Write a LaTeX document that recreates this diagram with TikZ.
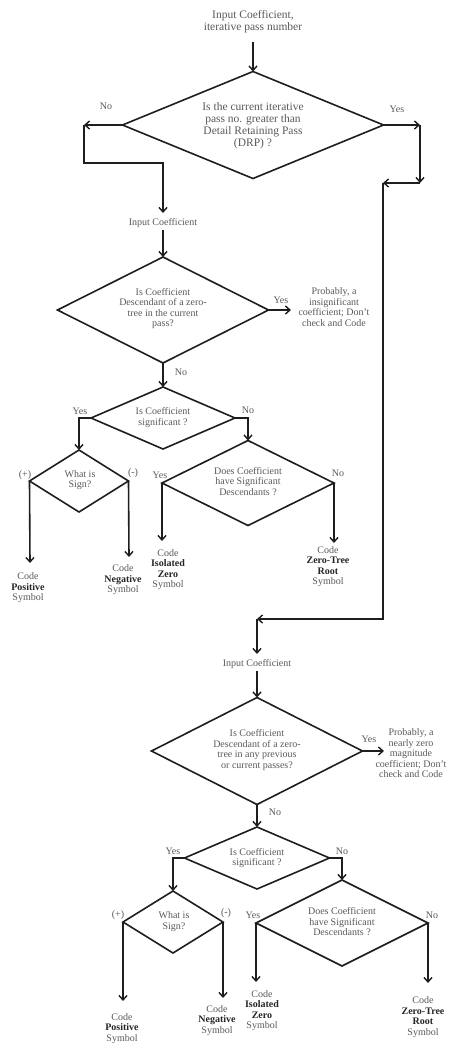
\documentclass[tikz,border=0pt]{standalone}
\usepackage{fontspec}
\setmainfont{Liberation Serif}
\usetikzlibrary{shapes.geometric,arrows.meta}
\definecolor{txtc}{HTML}{5A5A5A}
\definecolor{linec}{HTML}{1E1E1E}
\definecolor{boldc}{HTML}{262626}
\newcommand{\bw}[1]{\textbf{\color{boldc}#1}}
\begin{document}
\begin{tikzpicture}[x=1pt,y=-1pt,
  dia/.style={draw=linec, line width=1.6pt, diamond, inner sep=0pt, outer sep=0pt},
  txt/.style={text=txtc, font=\fontsize{10}{10.5}\selectfont, align=center, inner sep=0pt},
  bigtxt/.style={text=txtc, font=\fontsize{11.5}{12}\selectfont, align=center, inner sep=0pt},
  lbl/.style={text=txtc, font=\fontsize{10}{10.5}\selectfont, inner sep=0pt},
  con/.style={draw=linec, line width=1.6pt},
  arr/.style={con, -{Straight Barb[length=4.5pt,width=8pt,line width=1.4pt]}}
]
\useasboundingbox[fill=white] (0,0) rectangle (449,1058);

% ---------- top ----------
\node[bigtxt] (t0) at (253,22) {Input Coefficient,\\iterative pass number};
\coordinate (a0) at (253,42);
\node[dia, minimum width=261pt, minimum height=107pt] (d1) at (253,125) {};
\node[bigtxt] (d1t) at (253,126) {Is the current iterative\\pass no. greater than\\Detail Retaining Pass\\(DRP) ?};
\draw[arr] (a0) -- (d1.north);
\node[lbl] (n1) at (106,106) {No};
\node[lbl] (y1) at (397,109) {Yes};

% left branch
\coordinate (c1) at (84,125);
\coordinate (c2) at (84,163);
\coordinate (c3) at (163,163);
\coordinate (c4) at (163,213);
\draw[arr] (d1.west) -- (c1);
\draw[arr] (c1) -- (c2) -- (c3) -- (c4);

% right branch
\coordinate (r1) at (420,125);
\coordinate (r2) at (420,183);
\coordinate (r3) at (383,183);
\coordinate (r4) at (383,619);
\coordinate (r5) at (257,619);
\coordinate (r6) at (257,654);
\draw[arr] (d1.east) -- (r1);
\draw[arr] (r1) -- (r2);
\draw[arr] (r2) -- (r3);
\draw[arr] (r3) -- (r4) -- (r5);
\draw[arr] (r5) -- (r6);

% ---------- first pass section ----------
\node[txt] (in1) at (163,223) {Input Coefficient};
\coordinate (a1) at (163,230);
\node[dia, minimum width=211pt, minimum height=106pt] (d2) at (163,310) {};
\node[txt] (d2t) at (163,308.5) {Is Coefficient\\Descendant of a zero-\\tree in the current\\pass?};
\draw[arr] (a1) -- (d2.north);
\node[lbl] (y2) at (281,300) {Yes};
\coordinate (a2) at (291,310);
\draw[arr] (d2.east) -- (a2);
\node[txt] (p1) at (334,307) {Probably, a\\insignificant\\coefficient; Don't\\check and Code};
\node[lbl] (n2) at (181,372) {No};

\node[dia, minimum width=144pt, minimum height=62pt] (d3) at (163,418) {};
\node[txt] (d3t) at (163,417.5) {Is Coefficient\\significant ?};
\draw[arr] (d2.south) -- (d3.north);
\node[lbl] (y3) at (80,411) {Yes};
\node[lbl] (n3) at (248,410) {No};

\node[dia, minimum width=99pt, minimum height=62pt] (d4) at (79,481) {};
\node[txt] (d4t) at (80,480) {What is\\Sign?};
\coordinate (b1) at (79,418);
\draw[arr] (d3.west) -- (b1) -- (d4.north);
\node[lbl] (pl1) at (25,475) {(+)};
\node[lbl] (mi1) at (133,473) {(-)};

\node[dia, minimum width=172pt, minimum height=85pt] (d5) at (248,483) {};
\node[txt] (d5t) at (248,481.5) {Does Coefficient\\have Significant\\Descendants ?};
\coordinate (b2) at (248,418);
\draw[arr] (d3.east) -- (b2) -- (d5.north);
\node[lbl] (y5) at (160,475) {Yes};
\node[lbl] (n5) at (338,473) {No};

\coordinate (e1) at (30,563);
\coordinate (e2) at (129,557);
\coordinate (e3) at (162,541);
\coordinate (e4) at (334,543);
\draw[arr] (d4.west) -- (e1);
\draw[arr] (d4.east) -- (e2);
\draw[arr] (d5.west) -- (e3);
\draw[arr] (d5.east) -- (e4);
\node[txt] (pos1) at (28,588) {Code\\\bw{Positive}\\Symbol};
\node[txt] (neg1) at (123,580) {Code\\\bw{Negative}\\Symbol};
\node[txt] (iso1) at (168,569.5) {Code\\\bw{Isolated}\\\bw{Zero}\\Symbol};
\node[txt] (ztr1) at (328,566.5) {Code\\\bw{Zero-Tree}\\\bw{Root}\\Symbol};

% ---------- second section ----------
\node[txt] (in2) at (257,664) {Input Coefficient};
\coordinate (a3) at (257,671);
\node[dia, minimum width=211pt, minimum height=107pt] (d6) at (257,751) {};
\node[txt] (d6t) at (257,750) {Is Coefficient\\Descendant of a zero-\\tree in any previous\\or current passes?};
\draw[arr] (a3) -- (d6.north);
\node[lbl] (y6) at (369,739) {Yes};
\coordinate (a4) at (384,751);
\draw[arr] (d6.east) -- (a4);
\node[txt] (p2) at (411,753.5) {Probably, a\\nearly zero\\magnitude\\coefficient; Don't\\check and Code};
\node[lbl] (n6) at (275,812) {No};

\node[dia, minimum width=145pt, minimum height=62pt] (d7) at (257,858) {};
\node[txt] (d7t) at (257,858) {Is Coefficient\\significant ?};
\draw[arr] (d6.south) -- (d7.north);
\node[lbl] (y7) at (173,851) {Yes};
\node[lbl] (n7) at (342,851) {No};

\node[dia, minimum width=100pt, minimum height=62pt] (d9) at (173,922) {};
\node[txt] (d9t) at (174,921.5) {What is\\Sign?};
\coordinate (b3) at (173,858);
\draw[arr] (d7.west) -- (b3) -- (d9.north);
\node[lbl] (pl2) at (118,915) {(+)};
\node[lbl] (mi2) at (226,913) {(-)};

\node[dia, minimum width=172pt, minimum height=86pt] (d8) at (342,923) {};
\node[txt] (d8t) at (342,922) {Does Coefficient\\have Significant\\Descendants ?};
\coordinate (b4) at (342,858);
\draw[arr] (d7.east) -- (b4) -- (d8.north);
\node[lbl] (y8) at (253,915) {Yes};
\node[lbl] (n8) at (432,915) {No};

\coordinate (e5) at (123,1001);
\coordinate (e6) at (223,998);
\coordinate (e7) at (256,982);
\coordinate (e8) at (428,983);
\draw[arr] (d9.west) -- (e5);
\draw[arr] (d9.east) -- (e6);
\draw[arr] (d8.west) -- (e7);
\draw[arr] (d8.east) -- (e8);
\node[txt] (pos2) at (122,1028.5) {Code\\\bw{Positive}\\Symbol};
\node[txt] (neg2) at (217,1020.5) {Code\\\bw{Negative}\\Symbol};
\node[txt] (iso2) at (262,1010.5) {Code\\\bw{Isolated}\\\bw{Zero}\\Symbol};
\node[txt] (ztr2) at (423,1017) {Code\\\bw{Zero-Tree}\\\bw{Root}\\Symbol};
\end{tikzpicture}
\end{document}
